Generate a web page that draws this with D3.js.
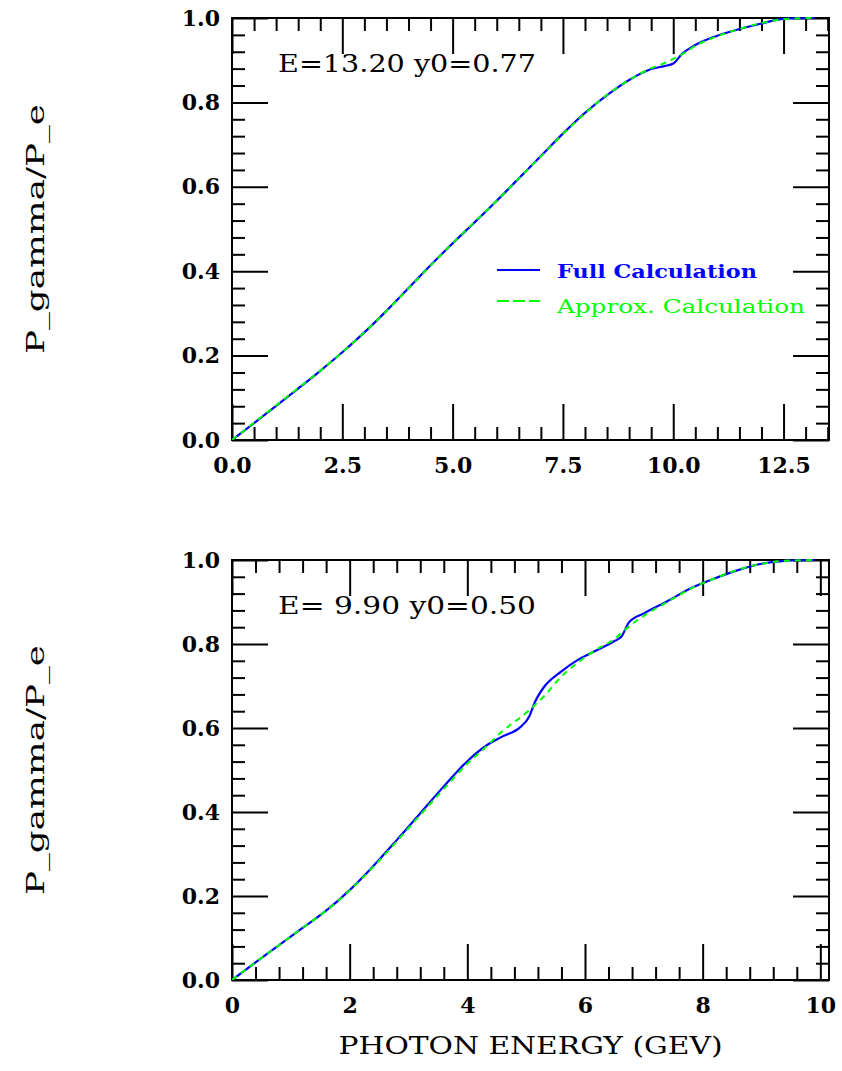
<!DOCTYPE html>
<html>
<head>
<meta charset="utf-8">
<script src="https://cdn.jsdelivr.net/npm/d3@7"></script>
<style>
  html, body { margin: 0; padding: 0; background: #fff; }
  svg { display: block; }
  text { font-family: "DejaVu Serif", "Liberation Serif", serif; fill: #000; }
</style>
</head>
<body>
<svg id="chart" width="842" height="1071"></svg>
<script>
// ---------- DATA ----------
// Panel 1: E = 13.20, y0 = 0.77
const topEnergy = [0, 0.5, 1.0, 1.5, 2.0, 2.5, 3.0, 3.5, 4.0, 4.5, 5.0, 5.5, 6.0, 6.5, 7.0, 7.5, 8.0, 8.5, 9.0, 9.5, 9.8, 10.0, 10.2, 10.5, 11.0, 11.5, 12.0, 12.5, 13.2];
const topFull   = [0, 0.040, 0.081, 0.122, 0.164, 0.208, 0.255, 0.306, 0.360, 0.414, 0.466, 0.516, 0.567, 0.620, 0.673, 0.726, 0.775, 0.817, 0.853, 0.879, 0.886, 0.892, 0.915, 0.936, 0.958, 0.974, 0.987, 0.998, 1.0];
const topApprox = [0, 0.041, 0.082, 0.123, 0.164, 0.208, 0.255, 0.306, 0.359, 0.413, 0.466, 0.517, 0.567, 0.620, 0.672, 0.725, 0.774, 0.818, 0.853, 0.881, 0.893, 0.903, 0.914, 0.934, 0.957, 0.974, 0.988, 0.997, 1.0];

// Panel 2: E = 9.90, y0 = 0.50
const botEnergy = [0, 0.4, 0.8, 1.2, 1.6, 2.0, 2.4, 2.8, 3.2, 3.6, 4.0, 4.3, 4.6, 4.9, 5.05, 5.15, 5.3, 5.6, 5.9, 6.2, 6.5, 6.62, 6.75, 7.0, 7.4, 7.8, 8.2, 8.6, 9.0, 9.4, 9.9];
const botFull   = [0, 0.042, 0.083, 0.124, 0.165, 0.214, 0.271, 0.333, 0.397, 0.461, 0.521, 0.556, 0.580, 0.602, 0.627, 0.662, 0.697, 0.735, 0.764, 0.785, 0.807, 0.818, 0.852, 0.873, 0.902, 0.933, 0.956, 0.976, 0.991, 0.998, 1.0];
const botApprox = [0, 0.042, 0.083, 0.124, 0.165, 0.213, 0.269, 0.330, 0.393, 0.455, 0.515, 0.553, 0.593, 0.625, 0.642, 0.655, 0.675, 0.723, 0.758, 0.787, 0.812, 0.826, 0.842, 0.867, 0.900, 0.932, 0.956, 0.977, 0.991, 0.998, 1.0];

// Tick values / labels
const yTicks = [0, 0.2, 0.4, 0.6, 0.8, 1.0];
const yTickLabels = ["0.0", "0.2", "0.4", "0.6", "0.8", "1.0"];
const topXTicks = [0, 2.5, 5.0, 7.5, 10.0, 12.5];
const topXTickLabels = ["0.0", "2.5", "5.0", "7.5", "10.0", "12.5"];
const botXTicks = [0, 2, 4, 6, 8, 10];
const botXTickLabels = ["0", "2", "4", "6", "8", "10"];

const annotations = ["E=13.20 y0=0.77", "E= 9.90 y0=0.50"];
const beamEnergies = [13.20, 9.90];
const legendLabels = ["Full Calculation", "Approx. Calculation"];
const yTitle = "P_gamma/P_e";
const xTitle = "PHOTON ENERGY (GEV)";

// ---------- LAYOUT ----------
const svg = d3.select("#chart");
const left = 232, right = 829;
const majorLen = 36, minorLen = 13;
const blue = "#0000ff", green = "#00ff00";

const panels = [
  { top: 18, bottom: 440, xmax: beamEnergies[0] * 1.025, xTicks: topXTicks, xLabels: topXTickLabels, minorStep: 0.5,
    energy: topEnergy, full: topFull, approx: topApprox, note: annotations[0], legend: true, xTitle: false },
  { top: 560, bottom: 980, xmax: beamEnergies[1] * 1.025, xTicks: botXTicks, xLabels: botXTickLabels, minorStep: 0.4,
    energy: botEnergy, full: botFull, approx: botApprox, note: annotations[1], legend: false, xTitle: true }
];

panels.forEach((p, i) => {
  const x = d3.scaleLinear().domain([0, p.xmax]).range([left, right]);
  const y = d3.scaleLinear().domain([0, 1]).range([p.bottom, p.top]);
  const g = svg.append("g");

  const xMinor = d3.range(0, p.xmax + 1e-9, p.minorStep).filter(v => !p.xTicks.some(t => Math.abs(t - v) < 1e-6));
  const yMinor = d3.range(0, 1.0001, 0.04).filter(v => !yTicks.some(t => Math.abs(t - v) < 1e-6));

  function styleAxis(sel) {
    sel.select(".domain").remove();
    sel.selectAll("line").attr("stroke", "#000").attr("stroke-width", 2);
    sel.selectAll("text").attr("font-family", "DejaVu Serif").attr("font-size", 22)
      .attr("font-weight", "bold").attr("fill", "#000");
  }

  // bottom major (with labels)
  g.append("g").attr("transform", `translate(0,${p.bottom})`)
    .call(d3.axisBottom(x).tickValues(p.xTicks).tickSizeInner(-majorLen).tickSizeOuter(0).tickPadding(17)
      .tickFormat((d, k) => p.xLabels[k]))
    .call(styleAxis);
  g.append("g").attr("transform", `translate(0,${p.bottom})`)
    .call(d3.axisBottom(x).tickValues(xMinor).tickSizeInner(-minorLen).tickSizeOuter(0).tickFormat(""))
    .call(styleAxis);
  // top
  g.append("g").attr("transform", `translate(0,${p.top})`)
    .call(d3.axisTop(x).tickValues(p.xTicks).tickSizeInner(-majorLen).tickSizeOuter(0).tickFormat(""))
    .call(styleAxis);
  g.append("g").attr("transform", `translate(0,${p.top})`)
    .call(d3.axisTop(x).tickValues(xMinor).tickSizeInner(-minorLen).tickSizeOuter(0).tickFormat(""))
    .call(styleAxis);
  // left
  g.append("g").attr("transform", `translate(${left},0)`)
    .call(d3.axisLeft(y).tickValues(yTicks).tickSizeInner(-majorLen).tickSizeOuter(0).tickPadding(12)
      .tickFormat((d, k) => yTickLabels[k]))
    .call(styleAxis);
  g.append("g").attr("transform", `translate(${left},0)`)
    .call(d3.axisLeft(y).tickValues(yMinor).tickSizeInner(-minorLen).tickSizeOuter(0).tickFormat(""))
    .call(styleAxis);
  // right
  g.append("g").attr("transform", `translate(${right},0)`)
    .call(d3.axisRight(y).tickValues(yTicks).tickSizeInner(-majorLen).tickSizeOuter(0).tickFormat(""))
    .call(styleAxis);
  g.append("g").attr("transform", `translate(${right},0)`)
    .call(d3.axisRight(y).tickValues(yMinor).tickSizeInner(-minorLen).tickSizeOuter(0).tickFormat(""))
    .call(styleAxis);

  // frame
  g.append("rect").attr("x", left).attr("y", p.top).attr("width", right - left).attr("height", p.bottom - p.top)
    .attr("fill", "none").attr("stroke", "#000").attr("stroke-width", 2);

  // clip
  const cid = "clip" + i;
  svg.append("clipPath").attr("id", cid).append("rect")
    .attr("x", left).attr("y", p.top - 2).attr("width", right - left).attr("height", p.bottom - p.top + 2);

  const line = d3.line().x(d => x(d[0])).y(d => y(d[1])).curve(d3.curveMonotoneX);
  const fullData = p.energy.map((e, k) => [e, p.full[k]]);
  const approxData = p.energy.map((e, k) => [e, p.approx[k]]);

  g.append("path").datum(fullData).attr("clip-path", `url(#${cid})`)
    .attr("d", line).attr("fill", "none").attr("stroke", blue).attr("stroke-width", 2.2);
  g.append("path").datum(approxData).attr("clip-path", `url(#${cid})`)
    .attr("d", line).attr("fill", "none").attr("stroke", green).attr("stroke-width", 2)
    .attr("stroke-dasharray", "6,5");

  // annotation
  g.append("text").attr("x", 278).attr("y", p.top + 54).attr("font-size", 24)
    .attr("textLength", 258).attr("lengthAdjust", "spacingAndGlyphs").text(p.note);

  // y title
  const yc = (p.top + p.bottom) / 2;
  g.append("text").attr("transform", `translate(44,${yc}) rotate(-90)`).attr("text-anchor", "middle")
    .attr("font-size", 24).attr("textLength", 250).attr("lengthAdjust", "spacingAndGlyphs").text(yTitle);

  if (p.xTitle) {
    g.append("text").attr("x", (left + right) / 2).attr("y", p.bottom + 74).attr("text-anchor", "middle")
      .attr("font-size", 24).attr("textLength", 384).attr("lengthAdjust", "spacingAndGlyphs").text(xTitle);
  }

  if (p.legend) {
    const lg = g.append("g");
    lg.append("line").attr("x1", 497).attr("x2", 540).attr("y1", 270).attr("y2", 270)
      .attr("stroke", blue).attr("stroke-width", 2.2);
    lg.append("text").attr("x", 557).attr("y", 278).attr("font-size", 19).attr("font-weight", "bold")
      .attr("fill", blue).style("fill", blue)
      .attr("textLength", 200).attr("lengthAdjust", "spacingAndGlyphs").text(legendLabels[0]);
    lg.append("line").attr("x1", 497).attr("x2", 540).attr("y1", 301).attr("y2", 301)
      .attr("stroke", green).attr("stroke-width", 2).attr("stroke-dasharray", "12,4");
    lg.append("text").attr("x", 557).attr("y", 313).attr("font-size", 19)
      .attr("fill", green).style("fill", green)
      .attr("textLength", 248).attr("lengthAdjust", "spacingAndGlyphs").text(legendLabels[1]);
  }
});
</script>
</body>
</html>
